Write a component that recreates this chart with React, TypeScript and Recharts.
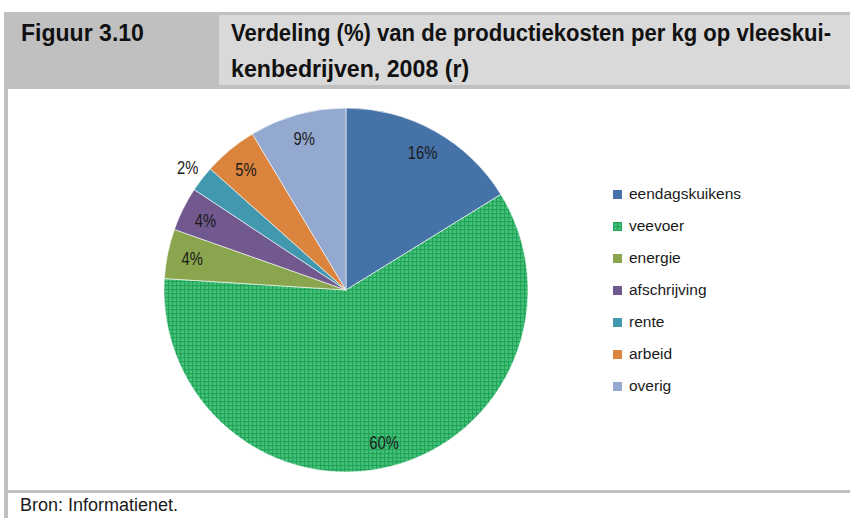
import React from "react";
import { PieChart, Pie, Cell, Legend } from "recharts";

// Kostenposten (aandeel in %)
const categories = [
  "eendagskuikens",
  "veevoer",
  "energie",
  "afschrijving",
  "rente",
  "arbeid",
  "overig",
];
const shares = [16.2, 59.8, 4.4, 3.9, 2.3, 4.8, 8.6];
const colors = [
  "#4572a7",
  "url(#veevoerRaster)",
  "#89a54e",
  "#71588f",
  "#4198af",
  "#db843d",
  "#93a9cf",
];
// labels die buiten de taart staan
const outsideLabels = ["rente"];

const FONT = '"Liberation Sans", Arial, sans-serif';

const data = categories.map((name, i) => ({ name, value: shares[i] }));

const RADIAN = Math.PI / 180;

function renderLabel(props: any) {
  const { cx, cy, midAngle, outerRadius, value, name } = props;
  const r = outsideLabels.includes(name) ? outerRadius + 18 : outerRadius - 25;
  const x = cx + r * Math.cos(-midAngle * RADIAN);
  const y = cy + r * Math.sin(-midAngle * RADIAN);
  return (
    <text
      x={0}
      y={0}
      transform={`translate(${x},${y}) scale(0.82,1)`}
      fill="#1a1a1a"
      textAnchor="middle"
      dominantBaseline="central"
      fontSize={18}
      fontFamily={FONT}
    >
      {Math.round(value)}%
    </text>
  );
}

function LegendList() {
  return (
    <div style={{ fontFamily: FONT, fontSize: 15.5, color: "#1a1a1a" }}>
      {categories.map((c, i) => (
        <div key={c} style={{ height: 32, display: "flex", alignItems: "center" }}>
          <svg width={9} height={9} style={{ marginRight: 7, display: "block" }}>
            <rect width={9} height={9} fill={colors[i]} />
          </svg>
          {c}
        </div>
      ))}
    </div>
  );
}

export default function App() {
  const headText: React.CSSProperties = {
    position: "absolute",
    fontSize: 24,
    lineHeight: "36px",
    fontWeight: "bold",
    color: "#111",
    whiteSpace: "nowrap",
    transformOrigin: "0 0",
  };
  return (
    <div
      style={{
        position: "absolute",
        left: 0,
        top: 0,
        width: 850,
        height: 518,
        background: "#fff",
        overflow: "hidden",
        fontFamily: FONT,
      }}
    >
      {/* kop */}
      <div style={{ position: "absolute", left: 4, top: 12, width: 846, height: 77, background: "#c0c0c0" }} />
      <div style={{ position: "absolute", left: 219, top: 15, width: 631, height: 70, background: "#d9d9d9" }} />
      <div style={{ ...headText, left: 21, top: 15, transform: "scaleX(0.96)" }}>Figuur 3.10</div>
      <div style={{ ...headText, left: 231, top: 15, transform: "scaleX(0.92)" }}>
        Verdeling (%) van de productiekosten per kg op vleeskui-
      </div>
      <div style={{ ...headText, left: 231, top: 51, transform: "scaleX(0.965)" }}>
        kenbedrijven, 2008 (r)
      </div>

      {/* kader */}
      <div style={{ position: "absolute", left: 4, top: 89, width: 4, height: 429, background: "#c0c0c0" }} />
      <div style={{ position: "absolute", left: 4, top: 490, width: 846, height: 3, background: "#c0c0c0" }} />

      <div style={{ position: "absolute", left: 8, top: 93 }}>
        <PieChart width={842} height={397} margin={{ top: 0, right: 0, bottom: 0, left: 0 }}>
          <defs>
            <pattern id="veevoerRaster" width="4" height="4" patternUnits="userSpaceOnUse">
              <rect width="4" height="4" fill="#45c27a" />
              <rect width="4" height="1.2" fill="#22a35a" />
              <rect width="1.2" height="4" fill="#22a35a" />
            </pattern>
          </defs>
          <Pie
            data={data}
            dataKey="value"
            nameKey="name"
            cx={338}
            cy={197}
            outerRadius={182}
            startAngle={90}
            endAngle={-270}
            stroke="#ffffff"
            strokeWidth={0.6}
            label={renderLabel}
            labelLine={false}
            isAnimationActive={false}
          >
            {data.map((d, i) => (
              <Cell key={d.name} fill={colors[i]} />
            ))}
          </Pie>
          <Legend
            content={() => <LegendList />}
            wrapperStyle={{ left: 605, top: 85, width: 200, bottom: "auto" }}
          />
        </PieChart>
      </div>

      <div
        style={{
          position: "absolute",
          left: 20,
          top: 493,
          fontSize: 18,
          lineHeight: "25px",
          color: "#1a1a1a",
        }}
      >
        Bron: Informatienet.
      </div>
    </div>
  );
}
